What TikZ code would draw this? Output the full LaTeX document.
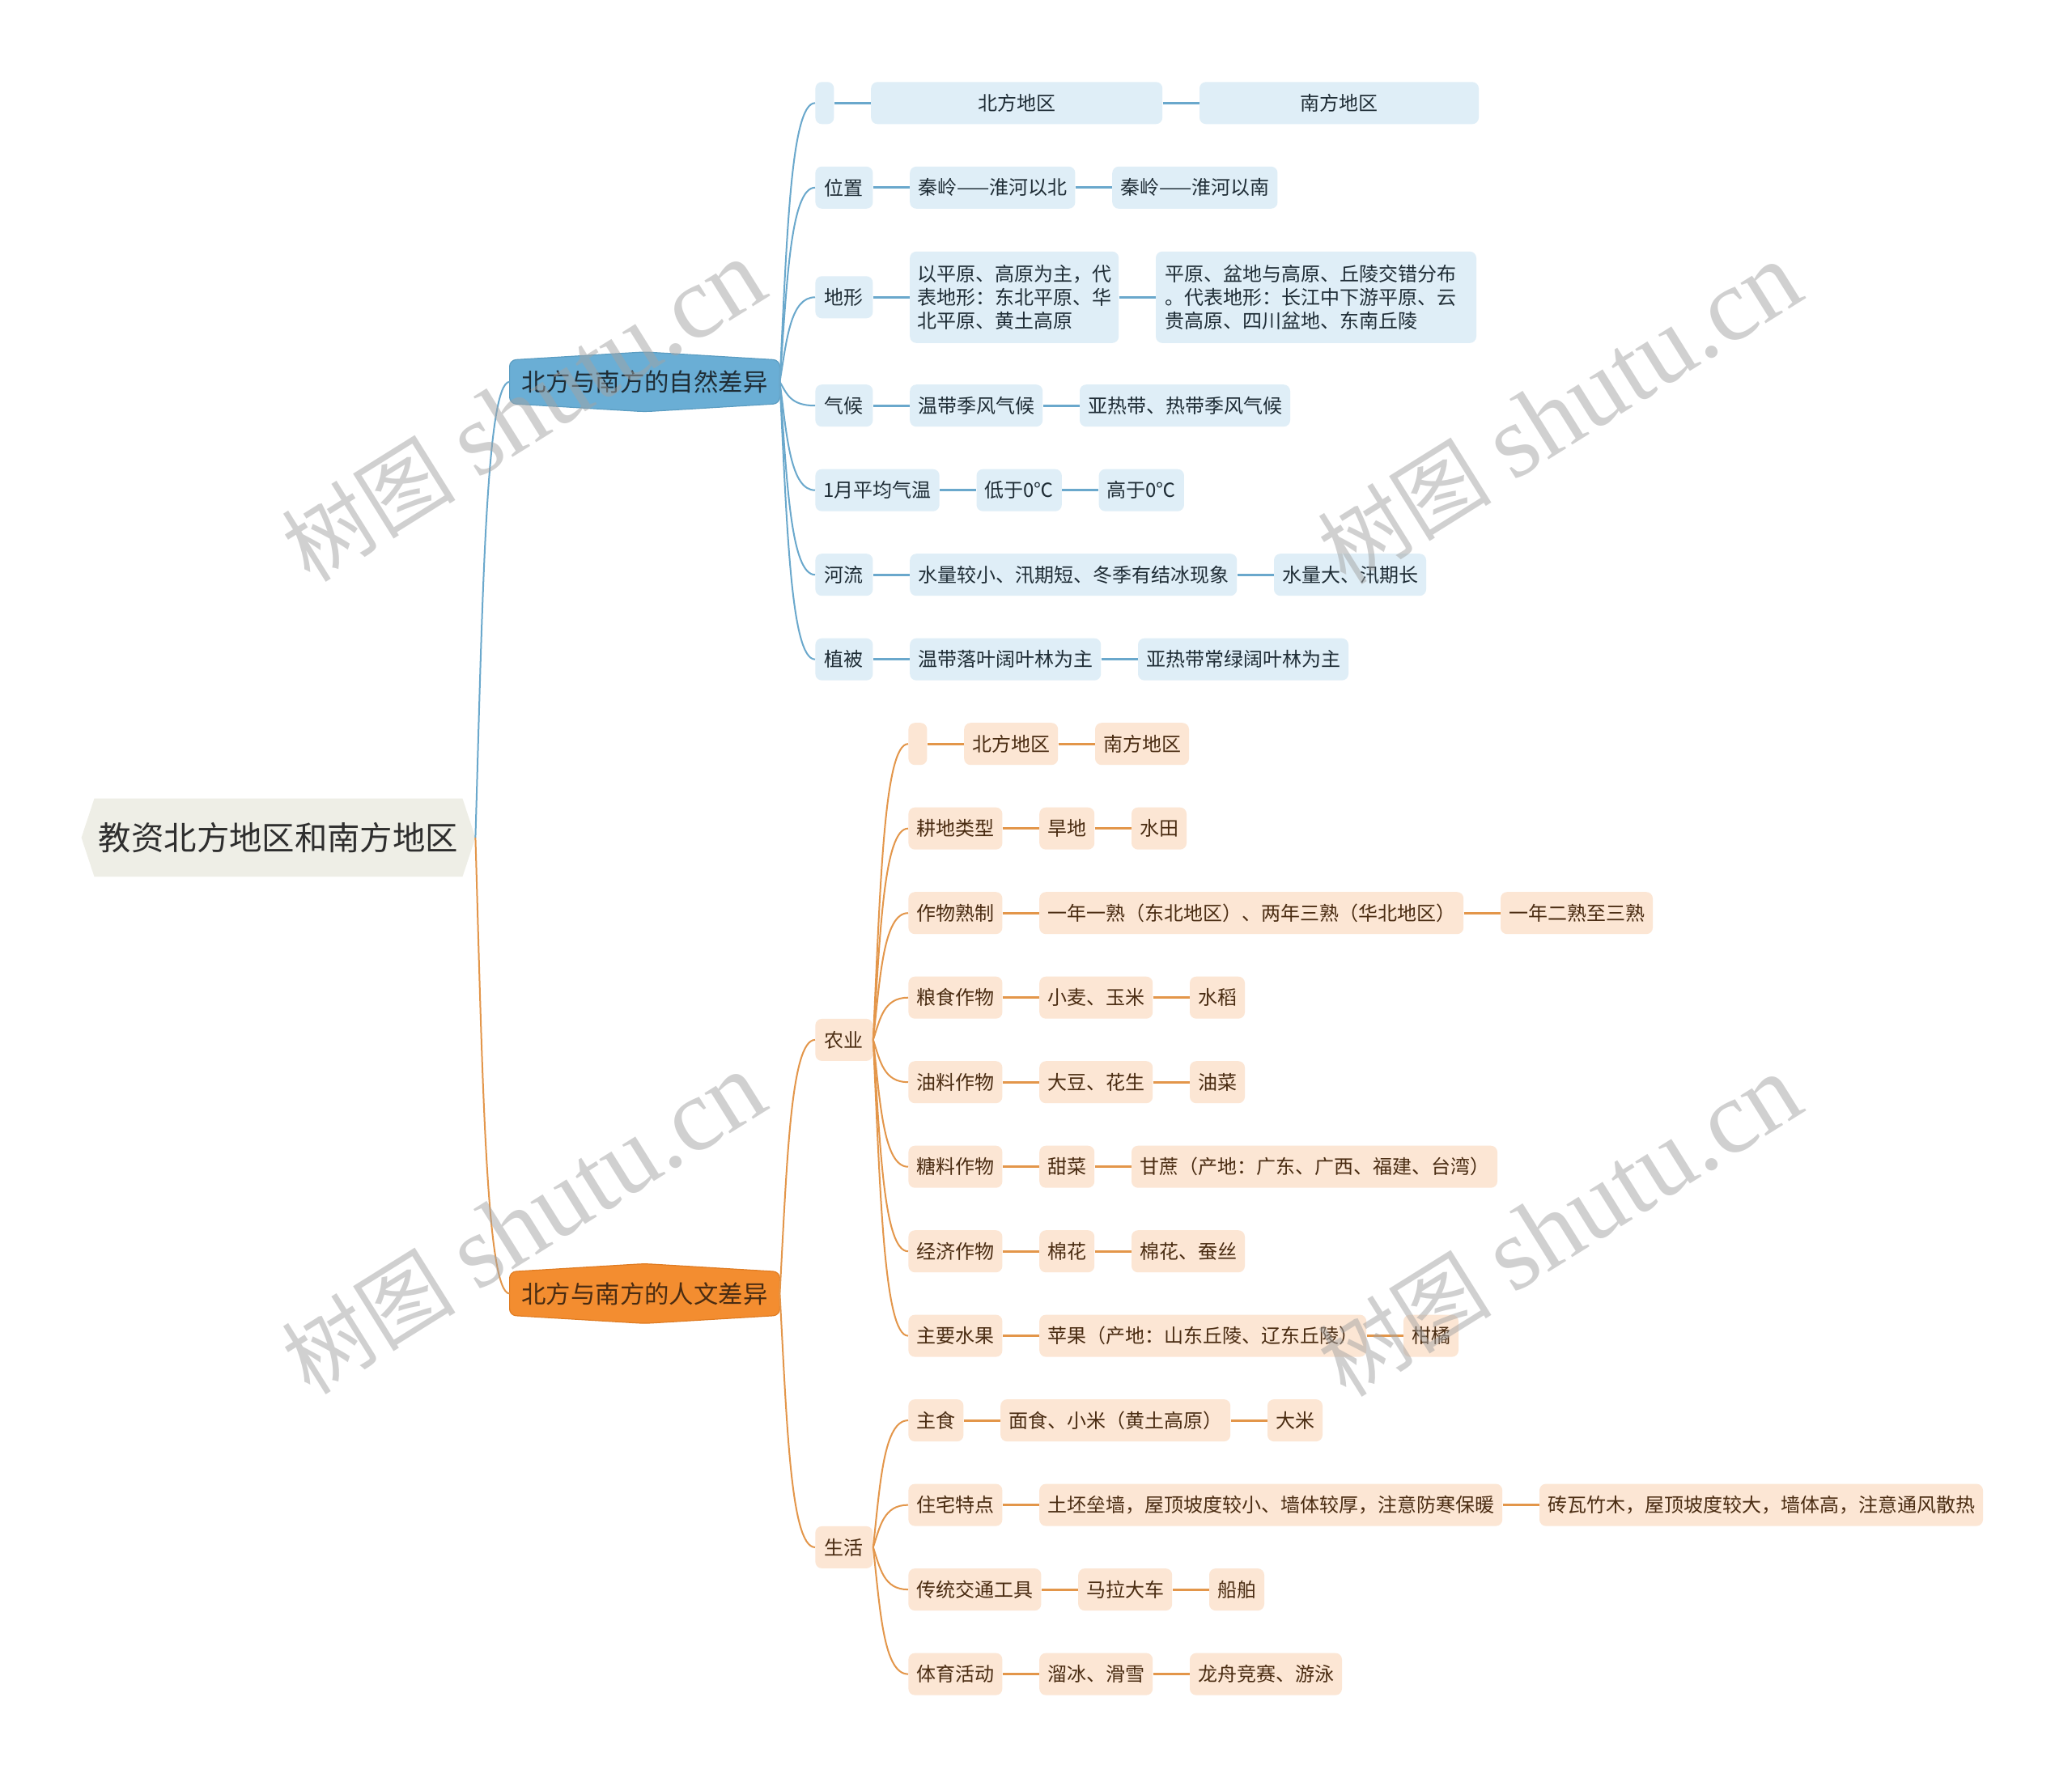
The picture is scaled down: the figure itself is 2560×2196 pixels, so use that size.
\documentclass[tikz,border=0pt]{standalone}
\usepackage{fontspec}
\setmainfont{Noto Sans CJK SC}
\newfontfamily\wmserif{Liberation Serif}
\usetikzlibrary{positioning,calc,backgrounds}
\definecolor{bluebr}{HTML}{6AAED5}
\definecolor{bluebrd}{HTML}{5B9DC2}
\definecolor{blueln}{HTML}{6AA8CC}
\definecolor{bluelf}{HTML}{DFEEF7}
\definecolor{bluetx}{HTML}{1F2D36}
\definecolor{orbr}{HTML}{F38D30}
\definecolor{orbrd}{HTML}{E07C22}
\definecolor{orln}{HTML}{E3964A}
\definecolor{orlf}{HTML}{FCE6D4}
\definecolor{ortx}{HTML}{4A2C12}
\definecolor{rootf}{HTML}{EEEEE6}
\definecolor{roottx}{HTML}{2E2E2E}
\definecolor{wmc}{HTML}{A3A3A3}
\newcommand\mmcurve[3]{\draw[#1] let \p1=(#2), \p2=(#3) in (\p1) .. controls ({\x1+0.2*(\x2-\x1)},{\y1+0.5*(\y2-\y1)}) and ({\x1+0.3*(\x2-\x1)},{\y2}) .. (\p2);}
\begin{document}
\begin{tikzpicture}[x=0.5pt,y=-0.5pt,
  node distance=22.5pt,
  leaf/.style={rectangle, rounded corners=4pt, inner xsep=5pt, inner ysep=0pt, minimum height=26pt, font=\fontsize{12}{14.7}\selectfont},
  bleaf/.style={leaf, fill=bluelf, text=bluetx},
  oleaf/.style={leaf, fill=orlf, text=ortx},
  ltwo/.style={anchor=west, minimum width=35.5pt},
  lthree/.style={anchor=west},
  emptybox/.style={minimum width=11.5pt, inner xsep=0pt},
  bln/.style={draw=blueln, line width=1.4pt},
  oln/.style={draw=orln, line width=1.4pt},
  bcv/.style={draw=blueln, line width=1pt},
  ocv/.style={draw=orln, line width=1pt},
  branchnode/.style={inner sep=0pt, minimum width=166.5pt, minimum height=26.5pt, font=\fontsize{15.2}{18}\selectfont},
  wmark/.style={text=wmc, opacity=0.5, rotate=32, anchor=center, inner sep=0pt}
]
\useasboundingbox (0,0) rectangle (2560,2196);
\begin{scope}[on background layer]
\fill[white] (0,0) rectangle (2560,2196);
\end{scope}

% root
\node[inner sep=0pt, minimum width=243pt, minimum height=48pt, text=roottx, font=\fontsize{20.2}{24}\selectfont] (root) at (344,1035) {教资北方地区和南方地区};
% branches
\node[branchnode, text=bluetx] (b1) at (796.5,471.8) {北方与南方的自然差异};
\node[branchnode, text=ortx] (b2) at (796.5,1598.4) {北方与南方的人文差异};

\begin{scope}[on background layer]
\fill[rootf] (root.west) -- ([xshift=8pt]root.north west) -- ([xshift=-8pt]root.north east) -- (root.east) -- ([xshift=-8pt]root.south east) -- ([xshift=8pt]root.south west) -- cycle;
\draw[fill=bluebr, draw=bluebrd, line width=0.6pt, rounded corners=4pt] (b1.north west) -- ([yshift=5pt]b1.north) -- (b1.north east) -- (b1.south east) -- ([yshift=-5pt]b1.south) -- (b1.south west) -- cycle;
\draw[fill=orbr, draw=orbrd, line width=0.6pt, rounded corners=4pt] (b2.north west) -- ([yshift=5pt]b2.north) -- (b2.north east) -- (b2.south east) -- ([yshift=-5pt]b2.south) -- (b2.south west) -- cycle;
\end{scope}

% ---------- natural (blue) ----------
\node[bleaf, ltwo, emptybox, minimum width=11.5pt] (n0) at (1007,127.3) {};
\node[bleaf, minimum width=180pt, right=of n0] (n0a) {北方地区};
\node[bleaf, minimum width=172.5pt, right=of n0a] (n0b) {南方地区};

\node[bleaf, ltwo] (n1) at (1007,231.8) {位置};
\node[bleaf, right=of n1] (n1a) {秦岭——淮河以北};
\node[bleaf, right=of n1a] (n1b) {秦岭——淮河以南};

\node[bleaf, ltwo] (n2) at (1007,367.3) {地形};
\node[bleaf, right=of n2, minimum height=56.5pt, text width=120pt, align=left, inner xsep=4.5pt] (n2a) {以平原、高原为主，代\\表地形：东北平原、华\\北平原、黄土高原};
\node[bleaf, right=of n2a, minimum height=56.5pt, text width=187pt, align=left, inner xsep=5.5pt] (n2b) {平原、盆地与高原、丘陵交错分布\\。代表地形：长江中下游平原、云\\贵高原、四川盆地、东南丘陵};

\node[bleaf, ltwo] (n3) at (1007,501.2) {气候};
\node[bleaf, right=of n3] (n3a) {温带季风气候};
\node[bleaf, right=of n3a] (n3b) {亚热带、热带季风气候};

\node[bleaf, ltwo] (n4) at (1007,605.7) {1月平均气温};
\node[bleaf, right=of n4] (n4a) {低于0℃};
\node[bleaf, right=of n4a] (n4b) {高于0℃};

\node[bleaf, ltwo] (n5) at (1007,710.2) {河流};
\node[bleaf, right=of n5] (n5a) {水量较小、汛期短、冬季有结冰现象};
\node[bleaf, right=of n5a] (n5b) {水量大、汛期长};

\node[bleaf, ltwo] (n6) at (1007,814.7) {植被};
\node[bleaf, right=of n6] (n6a) {温带落叶阔叶林为主};
\node[bleaf, right=of n6a] (n6b) {亚热带常绿阔叶林为主};

% ---------- human (orange) ----------
\node[oleaf, ltwo] (m1) at (1007,1284.9) {农业};
\node[oleaf, ltwo] (m2) at (1007,1911.9) {生活};

\node[oleaf, lthree, emptybox] (a0) at (1122,919.2) {};
\node[oleaf, right=of a0] (a0a) {北方地区};
\node[oleaf, right=of a0a] (a0b) {南方地区};

\node[oleaf, lthree] (a1) at (1122,1023.7) {耕地类型};
\node[oleaf, right=of a1] (a1a) {旱地};
\node[oleaf, right=of a1a] (a1b) {水田};

\node[oleaf, lthree] (a2) at (1122,1128.2) {作物熟制};
\node[oleaf, right=of a2] (a2a) {一年一熟（东北地区）、两年三熟（华北地区）};
\node[oleaf, right=of a2a] (a2b) {一年二熟至三熟};

\node[oleaf, lthree] (a3) at (1122,1232.7) {粮食作物};
\node[oleaf, right=of a3] (a3a) {小麦、玉米};
\node[oleaf, right=of a3a] (a3b) {水稻};

\node[oleaf, lthree] (a4) at (1122,1337.2) {油料作物};
\node[oleaf, right=of a4] (a4a) {大豆、花生};
\node[oleaf, right=of a4a] (a4b) {油菜};

\node[oleaf, lthree] (a5) at (1122,1441.7) {糖料作物};
\node[oleaf, right=of a5] (a5a) {甜菜};
\node[oleaf, right=of a5a] (a5b) {甘蔗（产地：广东、广西、福建、台湾）};

\node[oleaf, lthree] (a6) at (1122,1546.2) {经济作物};
\node[oleaf, right=of a6] (a6a) {棉花};
\node[oleaf, right=of a6a] (a6b) {棉花、蚕丝};

\node[oleaf, lthree] (a7) at (1122,1650.6) {主要水果};
\node[oleaf, right=of a7] (a7a) {苹果（产地：山东丘陵、辽东丘陵）};
\node[oleaf, right=of a7a] (a7b) {柑橘};

\node[oleaf, lthree] (c1) at (1122,1755.1) {主食};
\node[oleaf, right=of c1] (c1a) {面食、小米（黄土高原）};
\node[oleaf, right=of c1a] (c1b) {大米};

\node[oleaf, lthree] (c2) at (1122,1859.6) {住宅特点};
\node[oleaf, right=of c2] (c2a) {土坯垒墙，屋顶坡度较小、墙体较厚，注意防寒保暖};
\node[oleaf, right=of c2a] (c2b) {砖瓦竹木，屋顶坡度较大，墙体高，注意通风散热};

\node[oleaf, lthree] (c3) at (1122,1964.1) {传统交通工具};
\node[oleaf, right=of c3] (c3a) {马拉大车};
\node[oleaf, right=of c3a] (c3b) {船舶};

\node[oleaf, lthree] (c4) at (1122,2068.6) {体育活动};
\node[oleaf, right=of c4] (c4a) {溜冰、滑雪};
\node[oleaf, right=of c4a] (c4b) {龙舟竞赛、游泳};

% ---------- connectors ----------
\mmcurve{bcv}{root.east}{b1.west}
\mmcurve{ocv}{root.east}{b2.west}

\foreach \k in {n0,n1,n2,n3,n4,n5,n6} {
  \mmcurve{bcv}{b1.east}{\k.west}
  \draw[bln] (\k.east) -- (\k a.west);
  \draw[bln] (\k a.east) -- (\k b.west);
}
\mmcurve{ocv}{b2.east}{m1.west}
\mmcurve{ocv}{b2.east}{m2.west}
\foreach \k in {a0,a1,a2,a3,a4,a5,a6,a7} {
  \mmcurve{ocv}{m1.east}{\k.west}
  \draw[oln] (\k.east) -- (\k a.west);
  \draw[oln] (\k a.east) -- (\k b.west);
}
\foreach \k in {c1,c2,c3,c4} {
  \mmcurve{ocv}{m2.east}{\k.west}
  \draw[oln] (\k.east) -- (\k a.west);
  \draw[oln] (\k a.east) -- (\k b.west);
}

% ---------- watermarks ----------
\node[wmark] (w1) at (647,508) {\fontsize{54}{58}\selectfont 树图\hspace{0.25em}{\wmserif\fontsize{64}{68}\selectfont shutu.cn}};
\node[wmark] (w2) at (1927,511) {\fontsize{54}{58}\selectfont 树图\hspace{0.25em}{\wmserif\fontsize{64}{68}\selectfont shutu.cn}};
\node[wmark] (w3) at (647,1512) {\fontsize{54}{58}\selectfont 树图\hspace{0.25em}{\wmserif\fontsize{64}{68}\selectfont shutu.cn}};
\node[wmark] (w4) at (1927,1515) {\fontsize{54}{58}\selectfont 树图\hspace{0.25em}{\wmserif\fontsize{64}{68}\selectfont shutu.cn}};
\end{tikzpicture}
\end{document}
